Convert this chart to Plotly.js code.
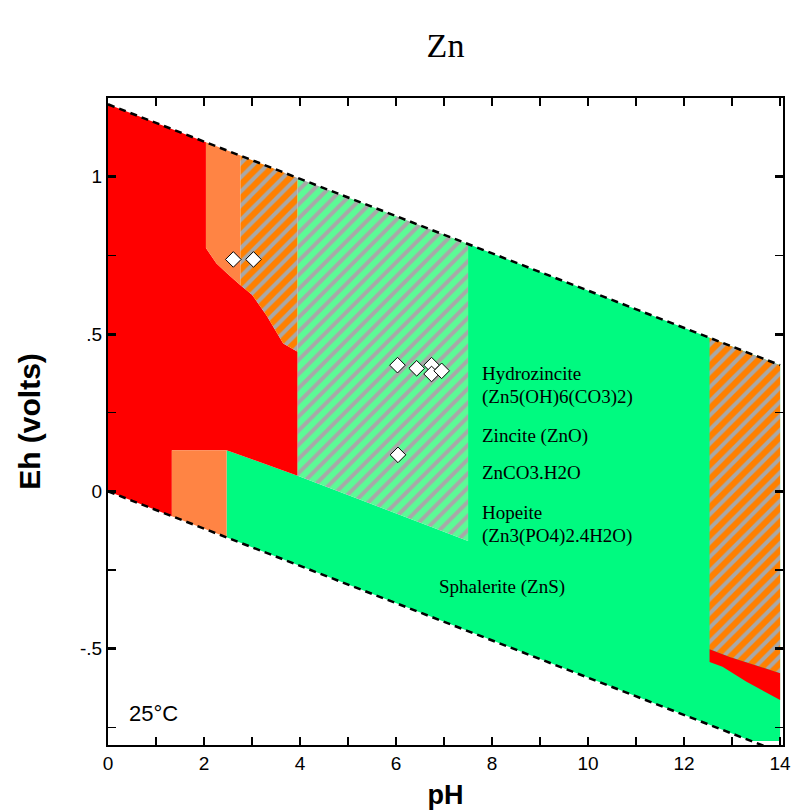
<!DOCTYPE html>
<html>
<head>
<meta charset="utf-8">
<script src="https://cdn.plot.ly/plotly-3.0.1.min.js"></script>
<style>html,body{margin:0;padding:0;background:#fff;}#chart{width:791px;height:810px;}</style>
</head>
<body>
<div id="chart"></div>
<script>
// ---- Data (pH, Eh in volts) ----
// Water stability limits
var upperWaterPH = [0, 14];
var upperWaterEh = [1.23, 0.401];
var lowerWaterPH = [0, 14];
var lowerWaterEh = [0, -0.829];

// Zn2+ (red) field, left side
var redLeftPH = [0, 2.04, 2.04, 2.26, 2.5, 2.76, 3.0, 3.3, 3.65, 3.95, 3.95, 2.47, 1.33, 1.33, 0];
var redLeftEh = [1.23, 1.109, 0.773, 0.724, 0.69, 0.655, 0.625, 0.56, 0.47, 0.444, 0.05, 0.131, 0.131, -0.079, 0];

// light orange fields
var coralUpPH = [2.04, 2.76, 2.76, 2.5, 2.26, 2.04];
var coralUpEh = [1.109, 1.067, 0.655, 0.69, 0.724, 0.773];
var coralLowPH = [1.33, 2.47, 2.47, 1.33];
var coralLowEh = [0.131, 0.131, -0.146, -0.079];

// hatched orange fields
var hatchOrangeAPH = [2.76, 3.95, 3.95, 3.65, 3.3, 3.0, 2.76];
var hatchOrangeAEh = [1.067, 0.996, 0.444, 0.47, 0.56, 0.625, 0.655];
var hatchOrangeBPH = [12.53, 14, 14, 12.95, 12.53];
var hatchOrangeBEh = [0.488, 0.401, -0.578, -0.526, -0.502];

// hatched green field
var hatchGreenPH = [3.95, 7.5, 7.5, 3.95];
var hatchGreenEh = [0.996, 0.786, -0.158, 0.05];

// solid green field (zincite / hydrozincite / sphalerite)
var greenPH = [2.47, 3.95, 7.5, 7.5, 12.53, 14, 14, 13.4, 12.53, 2.47];
var greenEh = [0.131, 0.05, -0.158, 0.786, 0.488, 0.401, -0.793, -0.793, -0.742, -0.146];

// red field, lower right
var redRightPH = [12.53, 12.95, 14, 14, 13.3, 12.8, 12.53];
var redRightEh = [-0.502, -0.526, -0.578, -0.663, -0.605, -0.557, -0.542];

// sample points
var samplePH = [2.61, 3.03, 6.03, 6.43, 6.74, 6.74, 6.95, 6.04];
var sampleEh = [0.737, 0.737, 0.401, 0.391, 0.401, 0.373, 0.383, 0.116];

// mineral labels
var labelText = ['Hydrozincite', '(Zn5(OH)6(CO3)2)', 'Zincite (ZnO)', 'ZnCO3.H2O', 'Hopeite', '(Zn3(PO4)2.4H2O)', 'Sphalerite (ZnS)'];
var labelPH = [7.75, 7.75, 7.75, 7.75, 7.75, 7.75, 6.85];
var labelEh = [0.376, 0.300, 0.176, 0.061, -0.066, -0.142, -0.304];

var xTicks = [0, 2, 4, 6, 8, 10, 12, 14];
var yTickVals = [-0.5, 0, 0.5, 1];
var yTickText = ['-.5', '0', '.5', '1'];

// ---- Styles ----
var RED = '#FF0000', CORAL = '#FF8444', ORANGE = '#FF8000', GREEN = '#00FA80', LGREEN = '#5CFA96', GREY = '#A8A8A8';

function area(x, y, color, pattern) {
  var t = {x: x, y: y, type: 'scatter', mode: 'none', fill: 'toself', fillcolor: color, hoverinfo: 'skip', showlegend: false};
  if (pattern) t.fillpattern = {shape: '/', bgcolor: color, fgcolor: GREY, size: 10, solidity: 0.4};
  return t;
}

var traces = [
  area(greenPH, greenEh, GREEN),
  area(redLeftPH, redLeftEh, RED),
  area(coralUpPH, coralUpEh, CORAL),
  area(coralLowPH, coralLowEh, CORAL),
  area(hatchOrangeAPH, hatchOrangeAEh, ORANGE, true),
  area(hatchOrangeBPH, hatchOrangeBEh, ORANGE, true),
  area(hatchGreenPH, hatchGreenEh, LGREEN, true),
  area(redRightPH, redRightEh, RED),
  {x: upperWaterPH, y: upperWaterEh, type: 'scatter', mode: 'lines', line: {color: '#000', width: 2.5, dash: '7px,5px'}, hoverinfo: 'skip', showlegend: false},
  {x: lowerWaterPH, y: lowerWaterEh, type: 'scatter', mode: 'lines', line: {color: '#000', width: 2.5, dash: '7px,5px'}, hoverinfo: 'skip', showlegend: false},
  {x: samplePH, y: sampleEh, type: 'scatter', mode: 'markers', marker: {symbol: 'diamond', size: 12, color: '#fff', line: {color: '#000', width: 1}}, hoverinfo: 'skip', showlegend: false}
];

var annotations = labelText.map(function (t, i) {
  return {x: labelPH[i], y: labelEh[i], xref: 'x', yref: 'y', text: t, showarrow: false, xanchor: 'left', yanchor: 'middle',
          font: {family: 'Liberation Serif, Times New Roman, serif', size: 19, color: '#000'}};
});
annotations.push({x: 0.4, y: -0.705, xref: 'x', yref: 'y', text: '25°C', showarrow: false, xanchor: 'left', yanchor: 'middle',
  font: {family: 'Liberation Sans, Arial, sans-serif', size: 22, color: '#000'}});

var tickFont = {family: 'Liberation Sans, Arial, sans-serif', size: 19, color: '#000'};

var layout = {
  width: 791, height: 810,
  margin: {l: 108, r: 8, t: 98, b: 65},
  paper_bgcolor: '#fff', plot_bgcolor: '#fff',
  title: {text: 'Zn', x: 0.5, xref: 'paper', y: 1 - 45 / 810, yref: 'container', xanchor: 'center', yanchor: 'middle',
          font: {family: 'Liberation Serif, Times New Roman, serif', size: 34, color: '#000'}},
  xaxis: {
    range: [0, 14.06], tickmode: 'array', tickvals: xTicks, ticktext: xTicks.map(String), ticklabeloverflow: 'allow',
    ticks: 'inside', ticklen: 8, tickwidth: 2, tickcolor: '#000',
    minor: {tickmode: 'array', tickvals: [1, 3, 5, 7, 9, 11, 13], ticks: 'inside', ticklen: 8, tickwidth: 1.5, tickcolor: '#000'},
    showline: true, linewidth: 2, linecolor: '#000', mirror: 'ticks',
    showgrid: false, zeroline: false, tickfont: tickFont,
    title: {text: 'pH', standoff: 12, font: {family: 'Liberation Sans, Arial, sans-serif', size: 27, color: '#000', weight: 'bold'}}
  },
  yaxis: {
    range: [-0.806, 1.25], tickmode: 'array', tickvals: yTickVals, ticktext: yTickText,
    ticks: 'inside', ticklen: 8, tickwidth: 3, tickcolor: '#000',
    minor: {tickmode: 'array', tickvals: [-0.75, -0.25, 0.25, 0.75], ticks: 'inside', ticklen: 8, tickwidth: 1.5, tickcolor: '#000'},
    showline: true, linewidth: 2, linecolor: '#000', mirror: 'ticks',
    showgrid: false, zeroline: false, tickfont: tickFont,
    title: {text: 'Eh (volts)', standoff: 31, font: {family: 'Liberation Sans, Arial, sans-serif', size: 30, color: '#000', weight: 'bold'}}
  },
  annotations: annotations,
  showlegend: false
};

Plotly.newPlot('chart', traces, layout, {displayModeBar: false, staticPlot: true});
</script>
</body>
</html>
